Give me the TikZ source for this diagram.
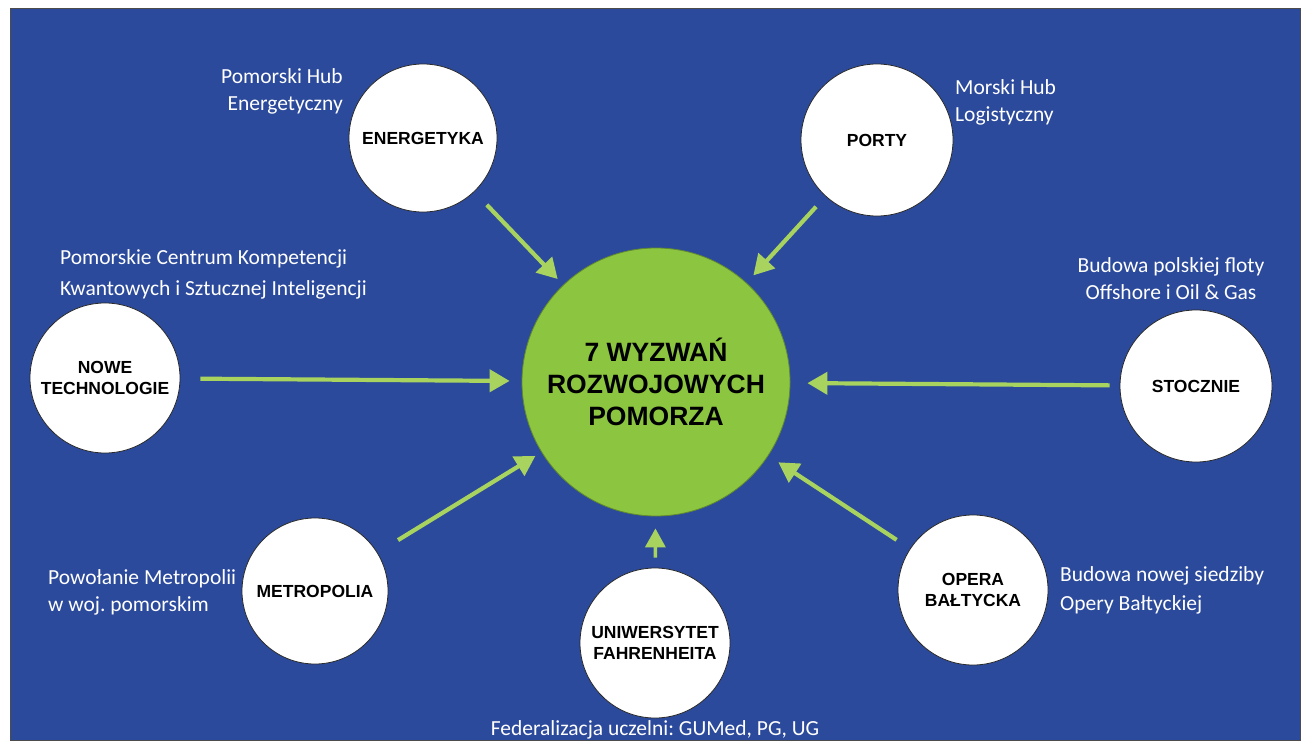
\documentclass[tikz,border=0pt]{standalone}
\usepackage{fontspec}
\setmainfont{Carlito}
\newfontfamily\arialfont{Liberation Sans}
\usetikzlibrary{arrows.meta}
\frenchspacing
\definecolor{bgblue}{HTML}{2C4A9B}
\definecolor{hubgreen}{HTML}{8CC540}
\definecolor{arrgreen}{HTML}{A8D35E}
\definecolor{edgegray}{HTML}{2A2A2A}
\tikzset{
  sat/.style={circle, fill=white, draw=edgegray, line width=0.8pt, minimum size=#1, inner sep=0pt, align=center,
    font=\arialfont\bfseries\fontsize{17.5}{21}\selectfont},
  hub/.style={circle, fill=hubgreen, draw=hubgreen!70!black, line width=0.8pt, minimum size=268pt, inner sep=0pt, align=center,
    font=\arialfont\bfseries\fontsize{26.5}{32}\selectfont},
  note/.style={text=white, inner sep=0pt, font=\frenchspacing\fontsize{21.5}{27}\selectfont},
  link/.style={draw=arrgreen, line width=4.2pt, -{Triangle[width=22pt,length=20pt]}},
}
\begin{document}
\begin{tikzpicture}[x=1pt,y=-1pt]
\useasboundingbox (0,0) rectangle (1305,746);
\fill[white] (0,0) rectangle (1305,746);
\path[fill=bgblue, draw=black!70, line width=0.8pt] (10,8) rectangle (1300,740);

\node[hub] (c) at (656,382) {7 WYZWAŃ\\ROZWOJOWYCH\\POMORZA};

\node[sat=148pt] (en) at (423,138) {ENERGETYKA};
\node[sat=152pt] (po) at (877,140) {PORTY};
\node[sat=150pt] (nt) at (105,378) {NOWE\\TECHNOLOGIE};
\node[sat=152pt] (st) at (1196,386) {STOCZNIE};
\node[sat=146pt] (me) at (315,591) {METROPOLIA};
\node[sat=150pt] (uf) at (655,643) {UNIWERSYTET\\FAHRENHEITA};
\node[sat=150pt] (op) at (973,590) {OPERA\\BAŁTYCKA};

\node[note, align=right, anchor=east] (nen) at (343,91) {Pomorski Hub\\Energetyczny};
\node[note, align=left, anchor=west] (npo) at (955,102) {Morski Hub\\Logistyczny};
\node[note, align=left, anchor=west, font=\frenchspacing\fontsize{21.5}{31}\selectfont] (nnt) at (60,274) {Pomorskie Centrum Kompetencji\\Kwantowych i Sztucznej Inteligencji};
\node[note, align=center] (nst) at (1171,279) {Budowa polskiej floty\\Offshore i Oil \& Gas};
\node[note, align=left, anchor=west] (nme) at (48,592) {Powołanie Metropolii\\w woj. pomorskim};
\node[note, align=left, anchor=west, font=\frenchspacing\fontsize{21.5}{29}\selectfont] (nop) at (1060,590) {Budowa nowej siedziby\\Opery Bałtyckiej};
\node[note] (nuf) at (655,730) {Federalizacja uczelni: GUMed, PG, UG};

\draw[link, shorten <=18pt, shorten >=8pt] (en) -- (c);
\draw[link, shorten <=14pt, shorten >=10pt] (po) -- (c);
\draw[link, shorten <=20pt, shorten >=12pt] (nt) -- (c);
\draw[link, shorten <=10pt, shorten >=17pt] (st) -- (c);
\draw[link, shorten <=24pt, shorten >=7pt] (me) -- (c);
\draw[link, line width=3.5pt, -{Triangle[width=20pt,length=19pt]}, shorten <=10pt, shorten >=12pt] (uf) -- (c);
\draw[link, shorten <=16pt, shorten >=12pt] (op) -- (c);
\end{tikzpicture}
\end{document}
